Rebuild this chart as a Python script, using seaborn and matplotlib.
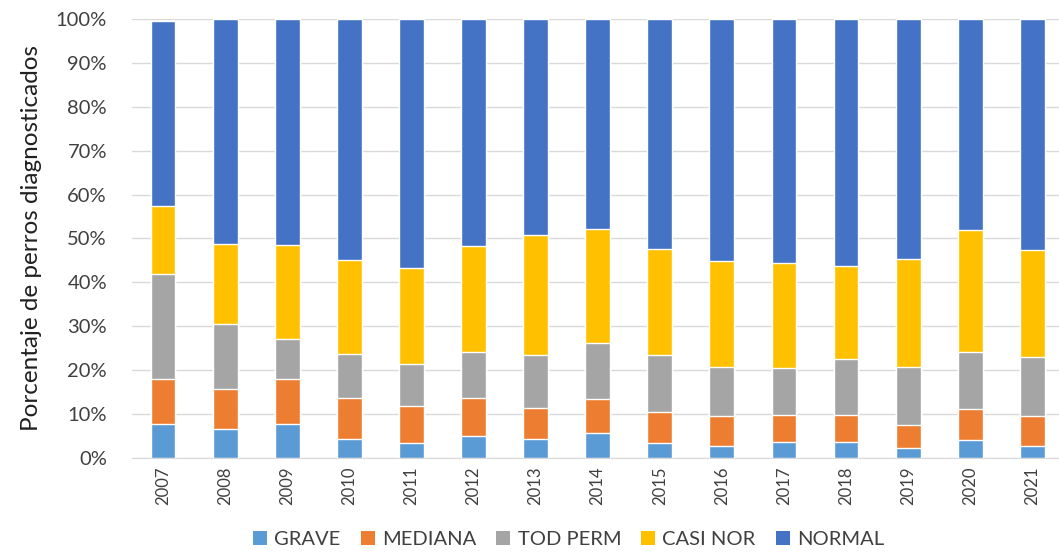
import pandas as pd
import matplotlib.pyplot as plt
import seaborn as sns
from matplotlib.patches import Patch

# Data (percent of diagnosed dogs per year)
years = ['2007', '2008', '2009', '2010', '2011', '2012', '2013', '2014',
         '2015', '2016', '2017', '2018', '2019', '2020', '2021']
grave = [7.8, 6.7, 7.8, 4.3, 3.4, 5.0, 4.3, 5.7, 3.4, 2.7, 3.6, 3.6, 2.3, 4.0, 2.7]
mediana = [10.1, 9.0, 10.1, 9.4, 8.4, 8.7, 7.0, 7.7, 7.1, 6.9, 6.1, 6.3, 5.3, 7.1, 6.9]
tod_perm = [23.9, 14.8, 9.1, 9.9, 9.6, 10.4, 12.2, 12.9, 13.0, 11.1, 10.8, 12.7, 13.1, 13.0, 13.4]
casi_nor = [15.6, 18.3, 21.5, 21.4, 21.9, 24.1, 27.3, 25.9, 24.1, 24.1, 23.9, 21.2, 24.6, 27.8, 24.3]
normal = [42.1, 51.2, 51.5, 55.0, 56.7, 51.8, 49.2, 47.8, 52.4, 55.2, 55.6, 56.2, 54.7, 48.1, 52.7]

categories = ['GRAVE', 'MEDIANA', 'TOD PERM', 'CASI NOR', 'NORMAL']
colors = ['#5B9BD5', '#ED7D31', '#A5A5A5', '#FFC000', '#4472C4']

df = pd.DataFrame({'year': years, 'GRAVE': grave, 'MEDIANA': mediana,
                   'TOD PERM': tod_perm, 'CASI NOR': casi_nor, 'NORMAL': normal})
cum = df[categories].cumsum(axis=1)
cum['year'] = df['year']

sns.set_style('white')
plt.rcParams['font.family'] = ['Lato', 'DejaVu Sans']

fig = plt.figure(figsize=(10.59, 5.55), dpi=100)
ax = fig.add_axes([0.1246, 0.1748, 0.8754, 0.791])

# stacked bars: draw cumulative totals from the top layer down
for cat, col in reversed(list(zip(categories, colors))):
    sns.barplot(data=cum, x='year', y=cat, color=col, width=0.4,
                saturation=1, ax=ax, zorder=3)

ax.set_ylim(0, 100)
ax.set_xlim(-0.5, 14.43)
ax.set_yticks(range(0, 101, 10))
ax.set_yticklabels([f'{v}%' for v in range(0, 101, 10)], fontsize=14.5, color='#404040')
ax.tick_params(axis='x', labelrotation=90, labelsize=12, labelcolor='#404040', length=0, pad=6)
ax.tick_params(axis='y', length=0, pad=18)
ax.yaxis.grid(True, color='#D9D9D9', linewidth=1, zorder=0)
ax.set_axisbelow(True)
for s in ['top', 'right', 'left']:
    ax.spines[s].set_visible(False)
ax.spines['bottom'].set_color('#D9D9D9')

ax.set_xlabel('')
ax.set_ylabel('Porcentaje de perros diagnosticados', fontsize=17.5, color='#202020', labelpad=10)

handles = [Patch(facecolor=c, edgecolor='none') for c in colors]
fig.legend(handles, categories, loc='lower center', bbox_to_anchor=(0.537, -0.02),
           ncol=5, frameon=False, fontsize=14.5, handlelength=0.7, handleheight=0.7,
           handletextpad=0.35, columnspacing=1.0, labelcolor='#404040')

fig.savefig('out.png', dpi=100)
